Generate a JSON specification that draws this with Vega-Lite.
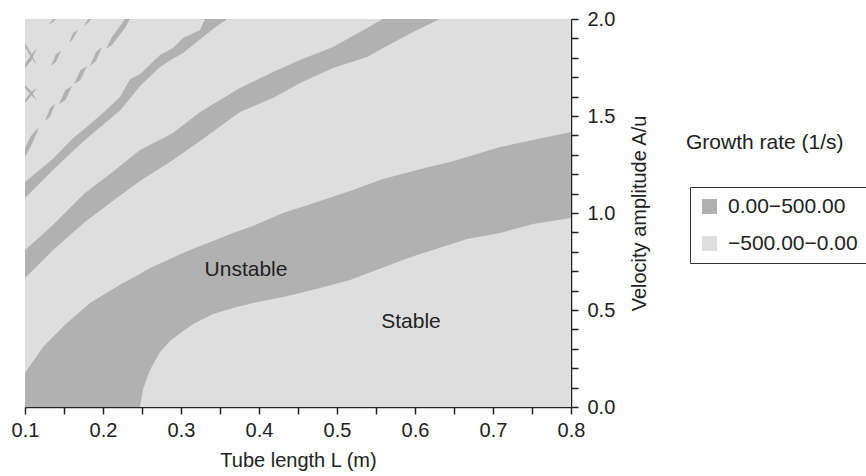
{
  "$schema": "https://vega.github.io/schema/vega-lite/v6.json",
  "width": 546,
  "height": 388,
  "autosize": {"type": "none"},
  "padding": {"left": 25, "top": 19, "right": 295, "bottom": 69},
  "config": {
    "view": {"stroke": null},
    "font": "Liberation Sans",
    "text": {"font": "Liberation Sans"}
  },
  "title": {
    "text": "Growth rate (1/s)",
    "anchor": "start",
    "frame": "group",
    "dx": 661,
    "dy": 148,
    "fontSize": 21,
    "fontWeight": "normal",
    "color": "#222222",
    "font": "Liberation Sans"
  },
  "datasets": {
    "bg": [
      {"x": 0.1, "x2": 0.8, "y": 0, "y2": 2, "rate": "−500.00−0.00"}
    ],
    "bands": [
      {"band": "b1", "x": 0.1, "lo": 0, "hi": 0.175, "rate": "0.00−500.00"},
      {"band": "b1", "x": 0.1231, "lo": 0, "hi": 0.309, "rate": "0.00−500.00"},
      {"band": "b1", "x": 0.1538, "lo": 0, "hi": 0.433, "rate": "0.00−500.00"},
      {"band": "b1", "x": 0.1833, "lo": 0, "hi": 0.536, "rate": "0.00−500.00"},
      {"band": "b1", "x": 0.2256, "lo": 0, "hi": 0.639, "rate": "0.00−500.00"},
      {"band": "b1", "x": 0.2474, "lo": 0, "hi": 0.686, "rate": "0.00−500.00"},
      {"band": "b1", "x": 0.2513, "lo": 0.093, "hi": 0.696, "rate": "0.00−500.00"},
      {"band": "b1", "x": 0.2603, "lo": 0.191, "hi": 0.716, "rate": "0.00−500.00"},
      {"band": "b1", "x": 0.2731, "lo": 0.284, "hi": 0.74, "rate": "0.00−500.00"},
      {"band": "b1", "x": 0.2859, "lo": 0.34, "hi": 0.763, "rate": "0.00−500.00"},
      {"band": "b1", "x": 0.3026, "lo": 0.392, "hi": 0.794, "rate": "0.00−500.00"},
      {"band": "b1", "x": 0.3179, "lo": 0.433, "hi": 0.82, "rate": "0.00−500.00"},
      {"band": "b1", "x": 0.341, "lo": 0.479, "hi": 0.856, "rate": "0.00−500.00"},
      {"band": "b1", "x": 0.3667, "lo": 0.51, "hi": 0.897, "rate": "0.00−500.00"},
      {"band": "b1", "x": 0.3923, "lo": 0.536, "hi": 0.933, "rate": "0.00−500.00"},
      {"band": "b1", "x": 0.4308, "lo": 0.567, "hi": 1.0, "rate": "0.00−500.00"},
      {"band": "b1", "x": 0.4526, "lo": 0.588, "hi": 1.028, "rate": "0.00−500.00"},
      {"band": "b1", "x": 0.4744, "lo": 0.61, "hi": 1.057, "rate": "0.00−500.00"},
      {"band": "b1", "x": 0.5167, "lo": 0.655, "hi": 1.113, "rate": "0.00−500.00"},
      {"band": "b1", "x": 0.559, "lo": 0.719, "hi": 1.175, "rate": "0.00−500.00"},
      {"band": "b1", "x": 0.5808, "lo": 0.753, "hi": 1.198, "rate": "0.00−500.00"},
      {"band": "b1", "x": 0.6026, "lo": 0.784, "hi": 1.222, "rate": "0.00−500.00"},
      {"band": "b1", "x": 0.6231, "lo": 0.809, "hi": 1.242, "rate": "0.00−500.00"},
      {"band": "b1", "x": 0.6449, "lo": 0.838, "hi": 1.263, "rate": "0.00−500.00"},
      {"band": "b1", "x": 0.6667, "lo": 0.866, "hi": 1.289, "rate": "0.00−500.00"},
      {"band": "b1", "x": 0.709, "lo": 0.897, "hi": 1.34, "rate": "0.00−500.00"},
      {"band": "b1", "x": 0.7513, "lo": 0.943, "hi": 1.376, "rate": "0.00−500.00"},
      {"band": "b1", "x": 0.8, "lo": 0.974, "hi": 1.418, "rate": "0.00−500.00"},
      {"band": "b2", "x": 0.1, "lo": 0.665, "hi": 0.809, "rate": "0.00−500.00"},
      {"band": "b2", "x": 0.1359, "lo": 0.809, "hi": 0.938, "rate": "0.00−500.00"},
      {"band": "b2", "x": 0.1769, "lo": 0.954, "hi": 1.103, "rate": "0.00−500.00"},
      {"band": "b2", "x": 0.209, "lo": 1.052, "hi": 1.201, "rate": "0.00−500.00"},
      {"band": "b2", "x": 0.2474, "lo": 1.165, "hi": 1.325, "rate": "0.00−500.00"},
      {"band": "b2", "x": 0.2897, "lo": 1.273, "hi": 1.412, "rate": "0.00−500.00"},
      {"band": "b2", "x": 0.3244, "lo": 1.371, "hi": 1.521, "rate": "0.00−500.00"},
      {"band": "b2", "x": 0.3756, "lo": 1.521, "hi": 1.644, "rate": "0.00−500.00"},
      {"band": "b2", "x": 0.4179, "lo": 1.593, "hi": 1.727, "rate": "0.00−500.00"},
      {"band": "b2", "x": 0.4526, "lo": 1.67, "hi": 1.789, "rate": "0.00−500.00"},
      {"band": "b2", "x": 0.4949, "lo": 1.747, "hi": 1.856, "rate": "0.00−500.00"},
      {"band": "b2", "x": 0.5385, "lo": 1.804, "hi": 1.954, "rate": "0.00−500.00"},
      {"band": "b2", "x": 0.559, "lo": 1.851, "hi": 2.0, "rate": "0.00−500.00"},
      {"band": "b2", "x": 0.6026, "lo": 1.943, "hi": 2.0, "rate": "0.00−500.00"},
      {"band": "b2", "x": 0.6321, "lo": 2.0, "hi": 2.0, "rate": "0.00−500.00"},
      {"band": "b3", "x": 0.1, "lo": 1.077, "hi": 1.16, "rate": "0.00−500.00"},
      {"band": "b3", "x": 0.1359, "lo": 1.222, "hi": 1.28, "rate": "0.00−500.00"},
      {"band": "b3", "x": 0.1615, "lo": 1.32, "hi": 1.385, "rate": "0.00−500.00"},
      {"band": "b3", "x": 0.1795, "lo": 1.385, "hi": 1.445, "rate": "0.00−500.00"},
      {"band": "b3", "x": 0.2, "lo": 1.455, "hi": 1.515, "rate": "0.00−500.00"},
      {"band": "b3", "x": 0.2218, "lo": 1.528, "hi": 1.598, "rate": "0.00−500.00"},
      {"band": "b3", "x": 0.2346, "lo": 1.59, "hi": 1.69, "rate": "0.00−500.00"},
      {"band": "b3", "x": 0.2474, "lo": 1.655, "hi": 1.715, "rate": "0.00−500.00"},
      {"band": "b3", "x": 0.2731, "lo": 1.752, "hi": 1.814, "rate": "0.00−500.00"},
      {"band": "b3", "x": 0.2897, "lo": 1.795, "hi": 1.851, "rate": "0.00−500.00"},
      {"band": "b3", "x": 0.3026, "lo": 1.825, "hi": 1.902, "rate": "0.00−500.00"},
      {"band": "b3", "x": 0.3244, "lo": 1.895, "hi": 1.943, "rate": "0.00−500.00"},
      {"band": "b3", "x": 0.3308, "lo": 1.915, "hi": 2.0, "rate": "0.00−500.00"},
      {"band": "b3", "x": 0.3436, "lo": 1.956, "hi": 2.0, "rate": "0.00−500.00"},
      {"band": "b3", "x": 0.359, "lo": 2.0, "hi": 2.0, "rate": "0.00−500.00"},
      {"band": "f1", "x": 0.1, "lo": 1.289, "hi": 1.335, "rate": "0.00−500.00"},
      {"band": "f1", "x": 0.1077, "lo": 1.345, "hi": 1.397, "rate": "0.00−500.00"},
      {"band": "f1", "x": 0.1167, "lo": 1.428, "hi": 1.438, "rate": "0.00−500.00"},
      {"band": "f3", "x": 0.1256, "lo": 1.474, "hi": 1.474, "rate": "0.00−500.00"},
      {"band": "f3", "x": 0.1321, "lo": 1.495, "hi": 1.541, "rate": "0.00−500.00"},
      {"band": "f3", "x": 0.1385, "lo": 1.562, "hi": 1.562, "rate": "0.00−500.00"},
      {"band": "f4", "x": 0.1436, "lo": 1.562, "hi": 1.562, "rate": "0.00−500.00"},
      {"band": "f4", "x": 0.1519, "lo": 1.582, "hi": 1.634, "rate": "0.00−500.00"},
      {"band": "f4", "x": 0.1603, "lo": 1.655, "hi": 1.655, "rate": "0.00−500.00"},
      {"band": "f5", "x": 0.1628, "lo": 1.665, "hi": 1.665, "rate": "0.00−500.00"},
      {"band": "f5", "x": 0.1712, "lo": 1.686, "hi": 1.737, "rate": "0.00−500.00"},
      {"band": "f5", "x": 0.1795, "lo": 1.758, "hi": 1.758, "rate": "0.00−500.00"},
      {"band": "f6", "x": 0.1833, "lo": 1.758, "hi": 1.758, "rate": "0.00−500.00"},
      {"band": "f6", "x": 0.191, "lo": 1.784, "hi": 1.83, "rate": "0.00−500.00"},
      {"band": "f6", "x": 0.1987, "lo": 1.856, "hi": 1.856, "rate": "0.00−500.00"},
      {"band": "f7", "x": 0.2038, "lo": 1.845, "hi": 1.845, "rate": "0.00−500.00"},
      {"band": "f7", "x": 0.2115, "lo": 1.866, "hi": 1.907, "rate": "0.00−500.00"},
      {"band": "f7", "x": 0.2192, "lo": 1.907, "hi": 1.948, "rate": "0.00−500.00"},
      {"band": "f7", "x": 0.2282, "lo": 1.954, "hi": 2.0, "rate": "0.00−500.00"},
      {"band": "f7", "x": 0.2346, "lo": 2.0, "hi": 2.0, "rate": "0.00−500.00"},
      {"band": "f8", "x": 0.1333, "lo": 1.758, "hi": 1.758, "rate": "0.00−500.00"},
      {"band": "f8", "x": 0.1397, "lo": 1.778, "hi": 1.82, "rate": "0.00−500.00"},
      {"band": "f8", "x": 0.1462, "lo": 1.835, "hi": 1.835, "rate": "0.00−500.00"},
      {"band": "f9", "x": 0.1564, "lo": 1.876, "hi": 1.876, "rate": "0.00−500.00"},
      {"band": "f9", "x": 0.1615, "lo": 1.897, "hi": 1.928, "rate": "0.00−500.00"},
      {"band": "f9", "x": 0.1679, "lo": 1.943, "hi": 1.943, "rate": "0.00−500.00"},
      {"band": "f10", "x": 0.1756, "lo": 1.964, "hi": 1.964, "rate": "0.00−500.00"},
      {"band": "f10", "x": 0.1808, "lo": 1.979, "hi": 2.0, "rate": "0.00−500.00"},
      {"band": "f10", "x": 0.1846, "lo": 2.0, "hi": 2.0, "rate": "0.00−500.00"},
      {"band": "f10b", "x": 0.1308, "lo": 1.974, "hi": 1.974, "rate": "0.00−500.00"},
      {"band": "f10b", "x": 0.1359, "lo": 1.985, "hi": 2.0, "rate": "0.00−500.00"},
      {"band": "f10b", "x": 0.1397, "lo": 2.0, "hi": 2.0, "rate": "0.00−500.00"},
      {"band": "f11a", "x": 0.1, "lo": 1.747, "hi": 1.768, "rate": "0.00−500.00"},
      {"band": "f11a", "x": 0.1077, "lo": 1.784, "hi": 1.814, "rate": "0.00−500.00"},
      {"band": "f11a", "x": 0.1154, "lo": 1.851, "hi": 1.851, "rate": "0.00−500.00"},
      {"band": "f11b", "x": 0.1, "lo": 1.856, "hi": 1.876, "rate": "0.00−500.00"},
      {"band": "f11b", "x": 0.1077, "lo": 1.804, "hi": 1.825, "rate": "0.00−500.00"},
      {"band": "f11b", "x": 0.1154, "lo": 1.758, "hi": 1.758, "rate": "0.00−500.00"},
      {"band": "f12a", "x": 0.1, "lo": 1.567, "hi": 1.582, "rate": "0.00−500.00"},
      {"band": "f12a", "x": 0.1077, "lo": 1.603, "hi": 1.624, "rate": "0.00−500.00"},
      {"band": "f12a", "x": 0.1154, "lo": 1.644, "hi": 1.644, "rate": "0.00−500.00"},
      {"band": "f12b", "x": 0.1, "lo": 1.644, "hi": 1.66, "rate": "0.00−500.00"},
      {"band": "f12b", "x": 0.1077, "lo": 1.608, "hi": 1.629, "rate": "0.00−500.00"},
      {"band": "f12b", "x": 0.1154, "lo": 1.577, "hi": 1.577, "rate": "0.00−500.00"}
    ],
    "labels": [
      {"label": "Unstable", "x": 0.3833, "y": 0.706},
      {"label": "Stable", "x": 0.5949, "y": 0.438}
    ]
  },
  "layer": [
    {
      "data": {"name": "bg"},
      "mark": {"type": "rect", "opacity": 1},
      "encoding": {
        "x": {"field": "x", "type": "quantitative"},
        "x2": {"field": "x2"},
        "y": {"field": "y", "type": "quantitative"},
        "y2": {"field": "y2"},
        "color": {"field": "rate", "type": "nominal"}
      }
    },
    {
      "data": {"name": "bands"},
      "mark": {"type": "area", "opacity": 1, "interpolate": "linear"},
      "encoding": {
        "x": {"field": "x", "type": "quantitative"},
        "y": {"field": "lo", "type": "quantitative"},
        "y2": {"field": "hi"},
        "detail": {"field": "band", "type": "nominal"},
        "color": {"field": "rate", "type": "nominal"}
      }
    },
    {
      "data": {"name": "labels"},
      "mark": {"type": "text", "fontSize": 21, "color": "#222222", "font": "Liberation Sans", "baseline": "middle", "align": "center"},
      "encoding": {
        "x": {"field": "x", "type": "quantitative"},
        "y": {"field": "y", "type": "quantitative"},
        "text": {"field": "label"}
      }
    }
  ],
  "resolve": {"scale": {"color": "shared"}},
  "encoding": {
    "x": {
      "type": "quantitative",
      "scale": {"domain": [0.1, 0.8], "nice": false, "zero": false},
      "axis": {
        "orient": "bottom",
        "values": [0.1, 0.15, 0.2, 0.25, 0.3, 0.35, 0.4, 0.45, 0.5, 0.55, 0.6, 0.65, 0.7, 0.75, 0.8],
        "labelExpr": "abs(datum.value*10 - round(datum.value*10)) < 0.001 ? format(datum.value, '.1f') : ''",
        "grid": false,
        "tickSize": 7,
        "tickWidth": 1.5,
        "tickColor": "#222222",
        "domainColor": "#222222",
        "domainWidth": 1.5,
        "labelColor": "#222222",
        "labelFontSize": 20,
        "labelPadding": 6,
        "labelFlush": false,
        "labelFont": "Liberation Sans",
        "title": "Tube length L (m)",
        "titleFont": "Liberation Sans",
        "titleFontSize": 20,
        "titleFontWeight": "normal",
        "titleColor": "#222222",
        "titlePadding": 10
      }
    },
    "y": {
      "type": "quantitative",
      "scale": {"domain": [0, 2], "nice": false, "zero": false},
      "axis": {
        "orient": "right",
        "values": [0, 0.1, 0.2, 0.3, 0.4, 0.5, 0.6, 0.7, 0.8, 0.9, 1.0, 1.1, 1.2, 1.3, 1.4, 1.5, 1.6, 1.7, 1.8, 1.9, 2.0],
        "labelExpr": "abs(datum.value*2 - round(datum.value*2)) < 0.001 ? format(datum.value, '.1f') : ''",
        "grid": false,
        "tickSize": 7,
        "tickWidth": 1.5,
        "tickColor": "#222222",
        "domainColor": "#222222",
        "domainWidth": 1.5,
        "labelColor": "#222222",
        "labelFontSize": 20,
        "labelPadding": 9,
        "labelFlush": false,
        "labelFont": "Liberation Sans",
        "title": "Velocity amplitude A/u",
        "titleFont": "Liberation Sans",
        "titleFontSize": 20,
        "titleFontWeight": "normal",
        "titleColor": "#222222",
        "titleAngle": 270,
        "titleBaseline": "top",
        "titlePadding": 15
      }
    },
    "color": {
      "type": "nominal",
      "scale": {"domain": ["0.00−500.00", "−500.00−0.00"], "range": ["#b1b1b1", "#dedede"]},
      "legend": {
        "title": null,
        "orient": "none",
        "legendX": 665,
        "legendY": 168,
        "strokeColor": "#333333",
        "padding": 9,
        "symbolType": "square",
        "symbolSize": 225,
        "symbolStrokeWidth": 0,
        "symbolOpacity": 1,
        "labelFontSize": 21,
        "labelFont": "Liberation Sans",
        "labelColor": "#222222",
        "labelOffset": 8,
        "rowPadding": 15
      }
    }
  }
}
